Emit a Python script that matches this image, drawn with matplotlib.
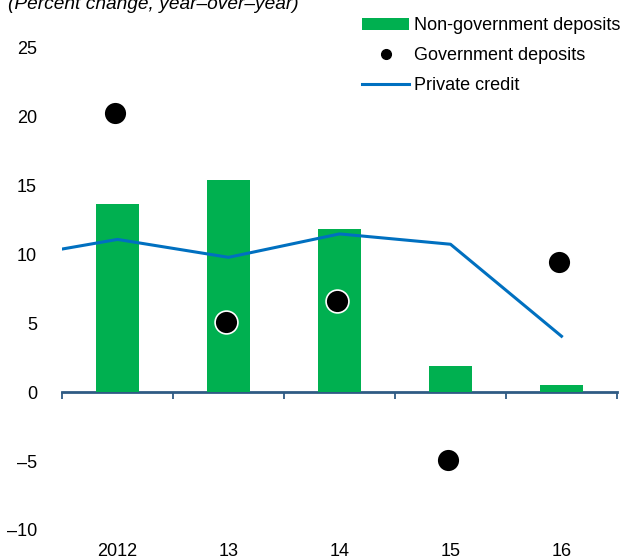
import matplotlib
matplotlib.use("Agg")
import matplotlib.pyplot as plt
from matplotlib.lines import Line2D
from matplotlib.patches import Patch
import numpy as np

plt.rcParams["font.family"] = ["Liberation Sans", "DejaVu Sans"]

years = ["2012", "13", "14", "15", "16"]
non_gov_deposits = [13.7, 15.4, 11.85, 1.9, 0.55]
gov_deposits = [20.3, 5.1, 6.6, -4.9, 9.45]
# private credit, first value is 2011 (clipped at the axis edge)
credit_years = ["2011", "2012", "13", "14", "15", "16"]
private_credit = [9.7, 11.1, 9.8, 11.5, 10.75, 4.07]

GREEN = "#00B050"
BLUE = "#0070C0"
AXIS = "#2F5B84"
FS = 13

fig = plt.figure(figsize=(6.24, 5.6), dpi=100)
ax = fig.add_axes([62 / 624, 30 / 560, 555 / 624, 482 / 560])

x = np.arange(len(years))
ax.bar(x, non_gov_deposits, width=0.39, color=GREEN, zorder=2)
xc = np.arange(len(credit_years)) - 1
ax.plot(xc, private_credit, color=BLUE, lw=2.2, zorder=3)
ax.scatter(x - 0.02, gov_deposits, s=270, color="black", edgecolor="white",
           linewidth=1.2, zorder=4)

ax.set_xlim(-0.5, len(years) - 0.5)
ax.set_ylim(-10, 25)
ax.set_yticks(np.arange(-10, 26, 5))
ax.set_yticklabels([str(v).replace("-", "\u2013") for v in range(-10, 26, 5)])
ax.tick_params(axis="y", length=0, labelsize=FS, pad=18)
ax.set_xticks(x)
ax.set_xticklabels(years)
ax.tick_params(axis="x", length=0, labelsize=FS, pad=9)
for s in ax.spines.values():
    s.set_visible(False)

# zero line with category separators
zero_frac = (0 - (-10)) / 35
sec = ax.secondary_xaxis(zero_frac)
sec.set_xticks(np.arange(-0.5, len(years), 1.0))
sec.set_xticklabels([])
sec.tick_params(axis="x", direction="out", length=5, width=1.3, color=AXIS)
sec.spines["bottom"].set_color(AXIS)
sec.spines["bottom"].set_linewidth(2)

fig.text(8 / 624, 1 - 9 / 560, "(Percent change, year\u2013over\u2013year)",
         style="italic", fontsize=13.8, va="baseline", ha="left")

handles = [
    Patch(facecolor=GREEN, edgecolor="none"),
    Line2D([], [], marker="o", color="black", linestyle="none", markersize=7),
    Line2D([], [], color=BLUE, lw=2.2),
]
labels = ["Non-government deposits", "Government deposits", "Private credit"]
fig.legend(handles, labels, loc="upper left", bbox_to_anchor=(355 / 624, 1 - 10 / 560),
           frameon=False, fontsize=FS, handlelength=2.6, handletextpad=0.25,
           labelspacing=0.72, borderaxespad=0)

fig.savefig("out.png", dpi=100)
